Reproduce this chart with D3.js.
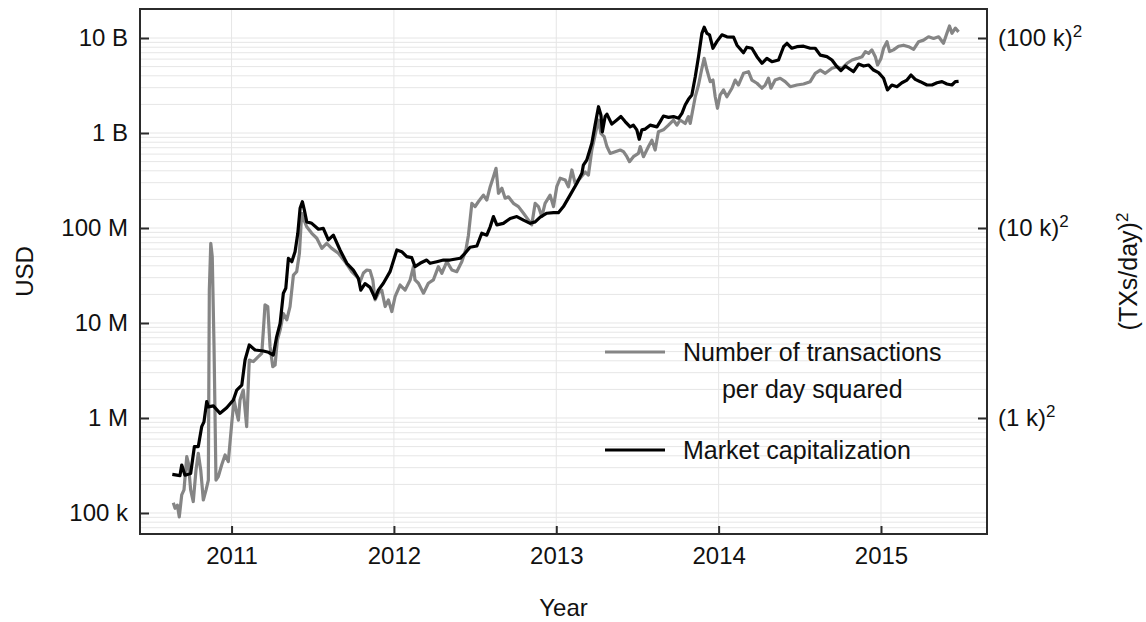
<!DOCTYPE html>
<html>
<head>
<meta charset="utf-8">
<script src="https://cdn.jsdelivr.net/npm/d3@7"></script>
<style>
  body { margin: 0; background: #fff; }
  text { font-family: "Liberation Sans", Arial, sans-serif; fill: #111; }
</style>
</head>
<body>
<div id="chart"></div>
<script>
// market capitalization (USD), decimal year
const capYears = [2010.635, 2010.682, 2010.693, 2010.713, 2010.748, 2010.771, 2010.795, 2010.816, 2010.830, 2010.847,
  2010.857, 2010.888, 2010.929, 2010.970, 2011.011, 2011.032, 2011.063, 2011.083, 2011.109, 2011.145,
  2011.196, 2011.227, 2011.257, 2011.278, 2011.299, 2011.319, 2011.334, 2011.350, 2011.371, 2011.391,
  2011.408, 2011.422, 2011.436, 2011.448, 2011.463, 2011.494, 2011.535, 2011.565, 2011.596, 2011.627,
  2011.668, 2011.710, 2011.750, 2011.781, 2011.796, 2011.822, 2011.853, 2011.884, 2011.904, 2011.935,
  2011.976, 2012.018, 2012.048, 2012.079, 2012.110, 2012.130, 2012.161, 2012.202, 2012.223, 2012.264,
  2012.305, 2012.346, 2012.408, 2012.438, 2012.469, 2012.511, 2012.541, 2012.572, 2012.593, 2012.613,
  2012.634, 2012.674, 2012.716, 2012.757, 2012.798, 2012.839, 2012.870, 2012.901, 2012.942, 2012.983,
  2013.013, 2013.044, 2013.085, 2013.127, 2013.158, 2013.167, 2013.188, 2013.219, 2013.239, 2013.260,
  2013.275, 2013.284, 2013.301, 2013.312, 2013.342, 2013.373, 2013.398, 2013.424, 2013.455, 2013.475,
  2013.496, 2013.511, 2013.527, 2013.548, 2013.578, 2013.620, 2013.640, 2013.660, 2013.691, 2013.722,
  2013.753, 2013.774, 2013.794, 2013.814, 2013.835, 2013.856, 2013.876, 2013.897, 2013.911, 2013.928,
  2013.944, 2013.965, 2013.989, 2014.020, 2014.051, 2014.092, 2014.113, 2014.153, 2014.174, 2014.205,
  2014.236, 2014.267, 2014.297, 2014.328, 2014.369, 2014.400, 2014.421, 2014.451, 2014.482, 2014.523,
  2014.564, 2014.595, 2014.626, 2014.667, 2014.698, 2014.729, 2014.753, 2014.780, 2014.800, 2014.831,
  2014.862, 2014.893, 2014.923, 2014.954, 2014.985, 2015.016, 2015.040, 2015.067, 2015.098, 2015.129,
  2015.160, 2015.185, 2015.211, 2015.242, 2015.283, 2015.314, 2015.345, 2015.376, 2015.406, 2015.437,
  2015.458, 2015.478];
const capUSD = [2.55e5, 2.47e5, 3.2e5, 2.5e5, 2.6e5, 5.0e5, 5.0e5, 8.1e5, 9.1e5, 1.49e6,
  1.31e6, 1.34e6, 1.12e6, 1.28e6, 1.55e6, 1.97e6, 2.22e6, 4.08e6, 5.87e6, 5.2e6,
  5.07e6, 4.92e6, 4.6e6, 7.2e6, 9.9e6, 2.06e7, 2.32e7, 4.8e7, 4.42e7, 5.63e7,
  8.8e7, 1.61e8, 1.89e8, 1.55e8, 1.16e8, 1.12e8, 9.7e7, 9.9e7, 7.5e7, 8.4e7,
  5.87e7, 4.25e7, 3.61e7, 2.96e7, 2.22e7, 2.6e7, 2.37e7, 1.82e7, 2.22e7, 2.62e7,
  3.47e7, 5.87e7, 5.63e7, 4.99e7, 4.87e7, 3.92e7, 4.25e7, 4.6e7, 4.25e7, 4.42e7,
  4.6e7, 4.6e7, 4.8e7, 5.42e7, 6.27e7, 6.47e7, 8.8e7, 8.4e7, 1.03e8, 1.32e8,
  1.08e8, 1.12e8, 1.26e8, 1.32e8, 1.21e8, 1.12e8, 1.16e8, 1.3e8, 1.43e8, 1.45e8,
  1.45e8, 1.68e8, 2.22e8, 2.96e8, 3.77e8, 4.6e8, 5.2e8, 7.8e8, 1.21e9, 1.89e9,
  1.55e9, 1.03e9, 1.49e9, 1.58e9, 1.24e9, 1.37e9, 1.49e9, 1.32e9, 1.16e9, 1.21e9,
  1.08e9, 8.6e8, 1.08e9, 1.1e9, 1.21e9, 1.16e9, 1.32e9, 1.51e9, 1.46e9, 1.49e9,
  1.43e9, 1.61e9, 1.97e9, 2.26e9, 2.51e9, 3.91e9, 6.36e9, 1.12e10, 1.3e10, 1.12e10,
  1.08e10, 7.8e9, 9.15e9, 1.08e10, 1.03e10, 1.02e10, 8.4e9, 7.0e9, 8.0e9, 7.8e9,
  6.36e9, 5.42e9, 6.1e9, 5.63e9, 5.87e9, 8.1e9, 8.8e9, 7.8e9, 8.1e9, 8.2e9,
  7.8e9, 7.8e9, 6.6e9, 6.36e9, 5.87e9, 4.99e9, 4.53e9, 5.07e9, 4.8e9, 4.42e9,
  5.32e9, 5.07e9, 5.2e9, 4.6e9, 4.32e9, 3.77e9, 2.84e9, 3.2e9, 3.07e9, 3.38e9,
  3.61e9, 4.08e9, 3.67e9, 3.47e9, 3.2e9, 3.2e9, 3.38e9, 3.47e9, 3.28e9, 3.2e9,
  3.47e9, 3.5e9];

// number of transactions per day, squared
const txYears = [2010.641, 2010.652, 2010.666, 2010.678, 2010.693, 2010.707, 2010.724, 2010.734, 2010.748, 2010.764,
  2010.781, 2010.795, 2010.810, 2010.826, 2010.843, 2010.857, 2010.863, 2010.872, 2010.881, 2010.892,
  2010.904, 2010.918, 2010.939, 2010.960, 2010.980, 2011.001, 2011.015, 2011.032, 2011.042, 2011.052,
  2011.072, 2011.093, 2011.109, 2011.134, 2011.165, 2011.186, 2011.196, 2011.206, 2011.223, 2011.237,
  2011.254, 2011.268, 2011.282, 2011.299, 2011.319, 2011.340, 2011.360, 2011.381, 2011.401, 2011.418,
  2011.432, 2011.442, 2011.463, 2011.494, 2011.525, 2011.556, 2011.586, 2011.617, 2011.658, 2011.699,
  2011.740, 2011.771, 2011.792, 2011.812, 2011.833, 2011.853, 2011.870, 2011.884, 2011.904, 2011.925,
  2011.946, 2011.966, 2011.987, 2012.007, 2012.038, 2012.069, 2012.100, 2012.120, 2012.130, 2012.151,
  2012.182, 2012.212, 2012.243, 2012.274, 2012.295, 2012.326, 2012.357, 2012.387, 2012.418, 2012.445,
  2012.459, 2012.480, 2012.500, 2012.520, 2012.551, 2012.572, 2012.593, 2012.613, 2012.629, 2012.644,
  2012.665, 2012.685, 2012.705, 2012.736, 2012.767, 2012.798, 2012.829, 2012.849, 2012.870, 2012.890,
  2012.911, 2012.931, 2012.962, 2012.983, 2013.003, 2013.024, 2013.055, 2013.075, 2013.096, 2013.116,
  2013.147, 2013.178, 2013.198, 2013.219, 2013.239, 2013.260, 2013.275, 2013.295, 2013.312, 2013.332,
  2013.363, 2013.394, 2013.414, 2013.435, 2013.451, 2013.475, 2013.506, 2013.517, 2013.537, 2013.568,
  2013.589, 2013.609, 2013.629, 2013.660, 2013.691, 2013.722, 2013.743, 2013.763, 2013.794, 2013.814,
  2013.825, 2013.856, 2013.876, 2013.897, 2013.911, 2013.928, 2013.948, 2013.965, 2013.979, 2013.993,
  2014.009, 2014.030, 2014.051, 2014.082, 2014.102, 2014.122, 2014.153, 2014.184, 2014.205, 2014.236,
  2014.267, 2014.287, 2014.307, 2014.322, 2014.348, 2014.379, 2014.410, 2014.441, 2014.482, 2014.523,
  2014.564, 2014.595, 2014.626, 2014.657, 2014.698, 2014.729, 2014.760, 2014.791, 2014.822, 2014.853,
  2014.884, 2014.904, 2014.924, 2014.944, 2014.965, 2014.979, 2015.000, 2015.016, 2015.037, 2015.053,
  2015.077, 2015.108, 2015.139, 2015.170, 2015.201, 2015.232, 2015.262, 2015.293, 2015.324, 2015.355,
  2015.385, 2015.406, 2015.422, 2015.437, 2015.458, 2015.478];
const txSquared = [1.28e5, 1.12e5, 1.21e5, 9.1e4, 1.55e5, 1.75e5, 3.92e5, 3.34e5, 1.75e5, 1.32e5,
  2.84e5, 4.25e5, 2.84e5, 1.37e5, 1.75e5, 2.22e5, 2.22e7, 6.9e7, 4.99e7, 5.63e6,
  2.22e5, 2.41e5, 3.2e5, 4.08e5, 3.47e5, 8.8e5, 1.55e6, 1.12e6, 9.5e5, 1.55e6,
  1.97e6, 8.1e5, 4.08e6, 3.92e6, 4.42e6, 4.8e6, 8.4e6, 1.55e7, 1.49e7, 5.63e6,
  3.47e6, 3.61e6, 6.62e6, 8.4e6, 1.26e7, 1.08e7, 1.49e7, 3.2e7, 3.47e7, 5.42e7,
  1.43e8, 1.26e8, 1.03e8, 8.8e7, 7.8e7, 6.1e7, 6.9e7, 6.1e7, 5.42e7, 4.42e7,
  3.47e7, 3.07e7, 2.72e7, 3.36e7, 3.61e7, 3.56e7, 2.84e7, 1.75e7, 2.06e7, 2.22e7,
  1.49e7, 1.75e7, 1.32e7, 1.89e7, 2.51e7, 2.22e7, 2.84e7, 3.92e7, 2.84e7, 2.62e7,
  2.06e7, 2.62e7, 2.84e7, 3.92e7, 3.34e7, 4.42e7, 3.61e7, 3.47e7, 4.42e7, 6.1e7,
  8.4e7, 1.82e8, 1.68e8, 1.89e8, 2.22e8, 1.97e8, 2.72e8, 3.47e8, 4.25e8, 2.32e8,
  2.62e8, 2.06e8, 2.13e8, 1.82e8, 1.68e8, 1.43e8, 1.21e8, 1.08e8, 1.82e8, 1.68e8,
  1.32e8, 1.82e8, 2.22e8, 1.68e8, 2.72e8, 3.34e8, 3.2e8, 2.72e8, 4.08e8, 2.96e8,
  3.34e8, 3.88e8, 3.61e8, 6.62e8, 9.5e8, 1.37e9, 9.9e8, 9.15e8, 7.2e8, 6.1e8,
  6.36e8, 6.62e8, 6.36e8, 5.63e8, 4.99e8, 5.63e8, 6.1e8, 7.2e8, 5.63e8, 7.2e8,
  8.4e8, 6.62e8, 1.03e9, 1.08e9, 1.21e9, 1.37e9, 1.21e9, 1.37e9, 1.26e9, 1.49e9,
  1.26e9, 2.41e9, 3.2e9, 4.8e9, 6.1e9, 4.6e9, 3.47e9, 3.61e9, 2.41e9, 1.82e9,
  2.51e9, 2.84e9, 2.41e9, 2.96e9, 3.61e9, 3.2e9, 4.25e9, 4.42e9, 3.61e9, 3.34e9,
  2.96e9, 3.2e9, 3.77e9, 2.96e9, 3.61e9, 3.77e9, 3.47e9, 3.07e9, 3.2e9, 3.28e9,
  3.47e9, 4.25e9, 4.6e9, 4.25e9, 4.8e9, 4.99e9, 4.8e9, 5.42e9, 5.87e9, 6.1e9,
  6.36e9, 7.2e9, 6.9e9, 7.5e9, 6.36e9, 5.2e9, 6.1e9, 7.8e9, 9.15e9, 7.2e9,
  7.5e9, 8.2e9, 8.4e9, 8.1e9, 7.6e9, 9.15e9, 9.5e9, 1.03e10, 9.9e9, 1.03e10,
  8.8e9, 1.12e10, 1.34e10, 1.12e10, 1.27e10, 1.16e10];

// axes
const yearTicks = [2011, 2012, 2013, 2014, 2015];
const usdTicks = [1e5, 1e6, 1e7, 1e8, 1e9, 1e10];
const usdLabels = ["100 k", "1 M", "10 M", "100 M", "1 B", "10 B"];
const txTicks = [1e6, 1e8, 1e10];
const txLabels = ["(1 k)", "(10 k)", "(100 k)"];
const legendItems = [
  {lines: ["Number of transactions", "per day squared"], color: "#858585"},
  {lines: ["Market capitalization"], color: "#000"}
];

const width = 1146, height = 622;
const margin = {top: 9, right: 159, bottom: 88, left: 140};
const plotW = width - margin.left - margin.right;
const plotH = height - margin.top - margin.bottom;

const svg = d3.select("#chart").append("svg")
  .attr("width", width)
  .attr("height", height);

const x = d3.scaleLinear().domain([2010.436, 2015.653]).range([0, plotW]);
const y = d3.scaleLog().domain([6.01e4, 2.02e10]).range([plotH, 0]);

const g = svg.append("g")
  .attr("transform", `translate(${margin.left},${margin.top})`);

// grid
let minor = [];
for (let e = 4; e <= 10; e++) {
  for (let k = 1; k <= 9; k++) {
    const v = k * Math.pow(10, e);
    if (v >= y.domain()[0] && v <= y.domain()[1]) minor.push(v);
  }
}
g.append("g").selectAll("line.h")
  .data(minor)
  .join("line")
  .attr("x1", 0).attr("x2", plotW)
  .attr("y1", d => y(d)).attr("y2", d => y(d))
  .attr("stroke", "#e6e6e6").attr("stroke-width", 1);
g.append("g").selectAll("line.v")
  .data(yearTicks)
  .join("line")
  .attr("x1", d => x(d)).attr("x2", d => x(d))
  .attr("y1", 0).attr("y2", plotH)
  .attr("stroke", "#e6e6e6").attr("stroke-width", 1);

// series
const line = d3.line()
  .x(d => x(d[0]))
  .y(d => y(d[1]));

g.append("path")
  .datum(d3.zip(txYears, txSquared))
  .attr("fill", "none")
  .attr("stroke", "#858585")
  .attr("stroke-width", 3.2)
  .attr("stroke-linejoin", "round")
  .attr("d", line);

g.append("path")
  .datum(d3.zip(capYears, capUSD))
  .attr("fill", "none")
  .attr("stroke", "#000")
  .attr("stroke-width", 3.2)
  .attr("stroke-linejoin", "round")
  .attr("d", line);

// frame
g.append("rect")
  .attr("width", plotW).attr("height", plotH)
  .attr("fill", "none").attr("stroke", "#2b2b2b").attr("stroke-width", 2);

// axes
const axisFont = "24px";

const xAxis = g.append("g")
  .attr("transform", `translate(0,${plotH})`)
  .call(d3.axisBottom(x).tickValues(yearTicks).tickFormat(d3.format("d"))
    .tickSize(-8).tickPadding(13));

const yAxis = g.append("g")
  .call(d3.axisLeft(y).tickValues(usdTicks).tickFormat((d, i) => usdLabels[i])
    .tickSize(-9).tickPadding(12));

const y2Axis = g.append("g")
  .attr("transform", `translate(${plotW},0)`)
  .call(d3.axisRight(y).tickValues(txTicks).tickFormat((d, i) => txLabels[i])
    .tickSize(-9).tickPadding(11));

[xAxis, yAxis, y2Axis].forEach(a => {
  a.select(".domain").remove();
  a.selectAll(".tick line").attr("stroke", "#2b2b2b").attr("stroke-width", 2);
  a.selectAll(".tick text")
    .attr("font-family", "Liberation Sans, Arial, sans-serif")
    .attr("font-size", axisFont)
    .attr("fill", "#111");
});

// squared exponent on right labels
y2Axis.selectAll(".tick text")
  .append("tspan")
  .attr("baseline-shift", "super")
  .attr("font-size", "17px")
  .text("2");

// axis titles
svg.append("text")
  .attr("x", margin.left + plotW / 2)
  .attr("y", 616)
  .attr("text-anchor", "middle")
  .attr("font-size", "24px")
  .text("Year");

svg.append("text")
  .attr("transform", `translate(33,${margin.top + plotH / 2}) rotate(-90)`)
  .attr("text-anchor", "middle")
  .attr("font-size", "24px")
  .text("USD");

const rt = svg.append("text")
  .attr("transform", `translate(1137,${margin.top + plotH / 2}) rotate(-90)`)
  .attr("text-anchor", "middle")
  .attr("font-size", "25px");
rt.append("tspan").text("(TXs/day)");
rt.append("tspan").attr("baseline-shift", "super").attr("font-size", "17px").text("2");

// legend
const legend = svg.append("g").attr("transform", "translate(605,352)");

const first = legend.append("g");
first.append("line")
  .attr("x1", 0).attr("x2", 60)
  .attr("stroke", legendItems[0].color).attr("stroke-width", 3.2);
const t1 = first.append("text")
  .attr("x", 78).attr("dy", "0.35em")
  .attr("font-size", "25px")
  .text(legendItems[0].lines[0]);
const w1 = t1.node().getComputedTextLength();
first.append("text")
  .attr("x", 78 + w1 / 2).attr("y", 37).attr("dy", "0.35em")
  .attr("text-anchor", "middle")
  .attr("font-size", "25px")
  .text(legendItems[0].lines[1]);

const second = legend.append("g").attr("transform", "translate(0,98)");
second.append("line")
  .attr("x1", 0).attr("x2", 60)
  .attr("stroke", legendItems[1].color).attr("stroke-width", 3.2);
second.append("text")
  .attr("x", 78).attr("dy", "0.35em")
  .attr("font-size", "25px")
  .text(legendItems[1].lines[0]);
</script>
</body>
</html>
